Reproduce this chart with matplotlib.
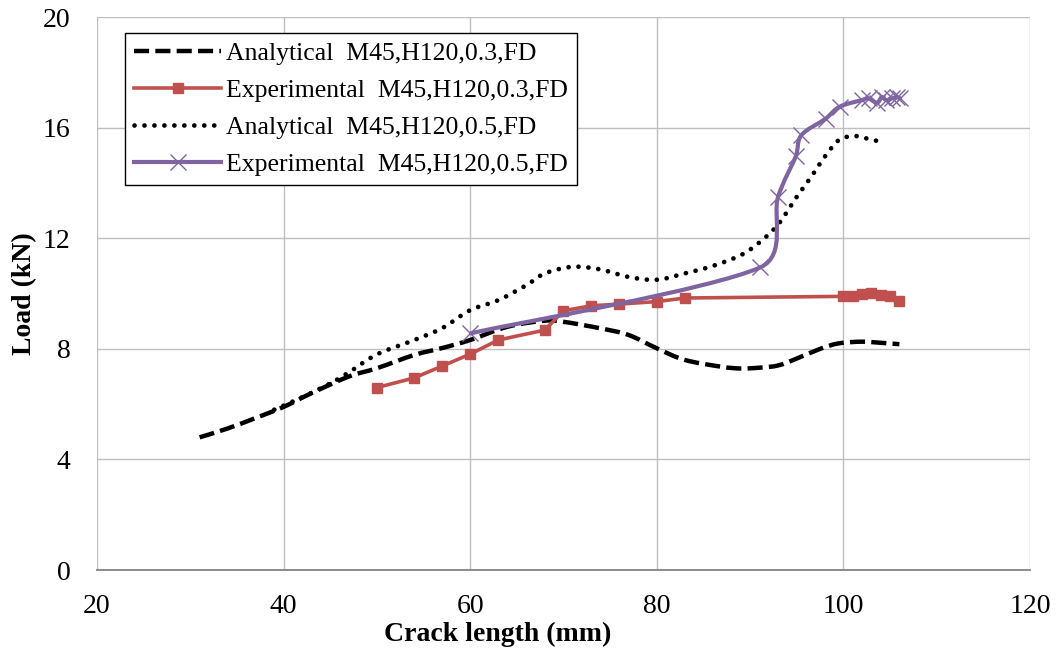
import numpy as np
import matplotlib
matplotlib.use("Agg")
import matplotlib.pyplot as plt
from matplotlib.path import Path
from matplotlib.patches import PathPatch
from matplotlib.lines import Line2D

plt.rcParams["font.family"] = ["Liberation Serif", "DejaVu Serif"]

# Analytical M45,H120,0.3,FD
ana03_x = [31, 34, 37, 40, 43, 47, 50, 54, 57, 60, 64, 68, 70, 74, 77, 80, 83, 87, 89, 91, 93, 95, 97.5, 99.5, 102, 104, 106]
ana03_y = [4.8, 5.12, 5.5, 5.9, 6.4, 7.0, 7.3, 7.78, 8.03, 8.32, 8.8, 9.02, 8.98, 8.74, 8.5, 8.02, 7.6, 7.35, 7.29, 7.32, 7.4, 7.65, 8.0, 8.2, 8.26, 8.22, 8.17]

# Experimental M45,H120,0.3,FD
exp03_x = [50, 54, 57, 60, 63, 68, 70, 73, 76, 80, 83, 100, 101, 102, 103, 104, 105, 106]
exp03_y = [6.6, 6.95, 7.38, 7.81, 8.32, 8.68, 9.38, 9.56, 9.62, 9.71, 9.84, 9.9, 9.92, 10.0, 10.02, 9.95, 9.92, 9.74]

# Analytical M45,H120,0.5,FD
ana05_x = [39, 42, 45, 47, 50, 54, 57, 60, 63, 66, 68, 71, 74, 77, 80, 83, 86, 89, 91, 93, 95, 96.5, 98, 99.5, 101, 102, 104]
ana05_y = [5.8, 6.25, 6.75, 7.15, 7.8, 8.32, 8.75, 9.4, 9.76, 10.3, 10.73, 10.97, 10.87, 10.6, 10.5, 10.73, 11.0, 11.39, 11.85, 12.5, 13.5, 14.2, 14.95, 15.55, 15.7, 15.65, 15.49]

# Experimental M45,H120,0.5,FD
exp05_x = [60, 91.1, 93.0, 94.9, 95.5, 98.1, 99.6, 102.0, 102.7, 103.6, 104.1, 104.6, 105.2, 105.7, 106.1]
exp05_y = [8.56, 10.95, 13.5, 14.97, 15.73, 16.33, 16.76, 17.0, 17.06, 16.9, 17.1, 17.0, 17.06, 17.1, 17.06]

labels = [
    "Analytical  M45,H120,0.3,FD",
    "Experimental  M45,H120,0.3,FD",
    "Analytical  M45,H120,0.5,FD",
    "Experimental  M45,H120,0.5,FD",
]

RED = "#C0504D"
PURPLE = "#8064A2"

# pixels per data unit (axes is ~933 x 553 px for 100 x 20 units)
SX, SY = 9.33, 27.65


def _clamp(vec, seg, limit=0.4):
    lv = np.hypot(vec[0] * SX, vec[1] * SY)
    ls = np.hypot(seg[0] * SX, seg[1] * SY)
    if lv > limit * ls and lv > 0:
        vec = vec * (limit * ls / lv)
    return vec


def smooth_path(xs, ys):
    # smoothed line like Excel's: cubic bezier through every point
    p = np.column_stack([xs, ys]).astype(float)
    n = len(p)
    verts = [p[0]]
    codes = [Path.MOVETO]
    for i in range(n - 1):
        p0 = p[i - 1] if i > 0 else p[i]
        p1 = p[i]
        p2 = p[i + 1]
        p3 = p[i + 2] if i + 2 < n else p[i + 1]
        c1 = p1 + _clamp((p2 - p0) / 6.0, p2 - p1)
        c2 = p2 - _clamp((p3 - p1) / 6.0, p2 - p1)
        verts += [c1, c2, p2]
        codes += [Path.CURVE4] * 3
    return Path(verts, codes)


fig = plt.figure(figsize=(10.6, 6.59), dpi=100)
ax = fig.add_axes([0.0915, 0.135, 0.8802, 0.839])

ax.set_xlim(20, 120)
ax.set_ylim(0, 20)
ax.set_xticks(np.arange(20, 121, 20))
ax.set_yticks(np.arange(0, 21, 4))
ax.grid(True, color="#BFBFBF", linewidth=1.0)
ax.set_axisbelow(True)
for side in ["top", "right", "left"]:
    ax.spines[side].set_visible(False)
ax.spines["bottom"].set_color("#8C8C8C")
ax.spines["bottom"].set_linewidth(1.4)
ax.tick_params(length=0, labelsize=20)
ax.tick_params(axis="x", pad=17)
ax.tick_params(axis="y", pad=19)

DASH = (0, (3.4, 1.4))
DOT = (0, (0.01, 2.1))

ax.add_patch(PathPatch(smooth_path(ana03_x, ana03_y), fill=False, edgecolor="black",
                       linewidth=3.2, linestyle=DASH, capstyle="butt", zorder=3))
ax.add_patch(PathPatch(smooth_path(ana05_x, ana05_y), fill=False, edgecolor="black",
                       linewidth=3.4, linestyle=DOT, capstyle="round", zorder=3))

ax.plot(exp03_x, exp03_y, color=RED, linewidth=2.6, marker="s", markersize=6.5, zorder=4)

ax.add_patch(PathPatch(smooth_path(exp05_x, exp05_y), fill=False, edgecolor=PURPLE,
                       linewidth=3.0, zorder=5))
ax.plot(exp05_x, exp05_y, linestyle="none", marker="x", markersize=11, markeredgewidth=1.0,
        color=PURPLE, zorder=5)

handles = [
    Line2D([], [], color="black", linewidth=3.2, linestyle=DASH, dash_capstyle="butt"),
    Line2D([], [], color=RED, linewidth=2.6, marker="s", markersize=6.5),
    Line2D([], [], color="black", linewidth=3.4, linestyle=DOT, dash_capstyle="round"),
    Line2D([], [], color=PURPLE, linewidth=3.0, marker="x", markersize=11, markeredgewidth=1.0),
]
leg = ax.legend(handles, labels, loc="upper left", bbox_to_anchor=(0.03, 0.972),
                fontsize=18.5, frameon=True, fancybox=False, edgecolor="black",
                framealpha=1, handlelength=3.4, handletextpad=0.2, labelspacing=0.55,
                borderpad=0.35, borderaxespad=0)
leg.get_frame().set_linewidth(1.0)

ax.set_xlabel("Crack length (mm)", fontsize=20, fontweight="bold")
ax.xaxis.set_label_coords(0.43, -0.093)
ax.set_ylabel("Load (kN)", fontsize=20, fontweight="bold", labelpad=4)

fig.savefig("out.png", dpi=100)
